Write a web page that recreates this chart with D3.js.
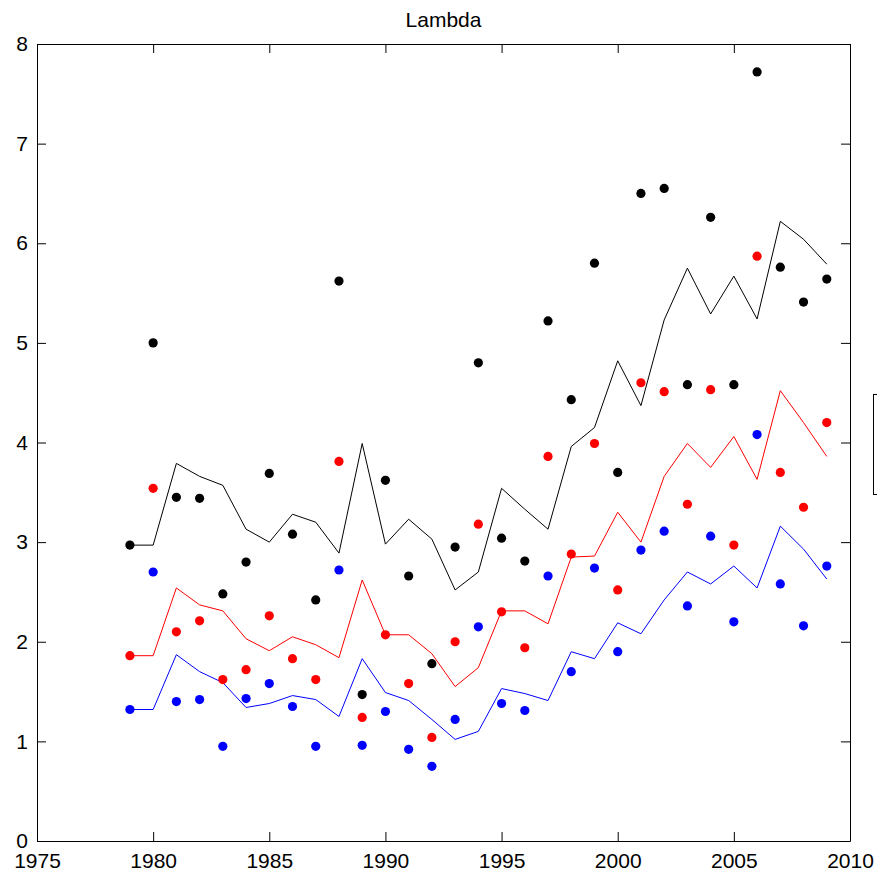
<!DOCTYPE html>
<html>
<head>
<meta charset="utf-8">
<script src="https://cdn.jsdelivr.net/npm/d3@7"></script>
<style>
    body { margin: 0; background: #fff; }
    svg { display: block; font-family: "Liberation Sans", Arial, Helvetica, sans-serif; }
</style>
</head>
<body>
<div class="svg-container"></div>
<script>
// years on the x axis
const years = [1979, 1980, 1981, 1982, 1983, 1984, 1985, 1986, 1987, 1988, 1989, 1990,
    1991, 1992, 1993, 1994, 1995, 1996, 1997, 1998, 1999, 2000, 2001, 2002,
    2003, 2004, 2005, 2006, 2007, 2008, 2009];

// dots (observed)
const blackDots = [2.97, 5.00, 3.45, 3.44, 2.48, 2.80, 3.69, 3.08, 2.42, 5.62, 1.47, 3.62,
    2.66, 1.78, 2.95, 4.80, 3.04, 2.81, 5.22, 4.43, 5.80, 3.70, 6.50, 6.55,
    4.58, 6.26, 4.58, 7.72, 5.76, 5.41, 5.64];
const redDots = [1.86, 3.54, 2.10, 2.21, 1.62, 1.72, 2.26, 1.83, 1.62, 3.81, 1.24, 2.07,
    1.58, 1.04, 2.00, 3.18, 2.30, 1.94, 3.86, 2.88, 3.99, 2.52, 4.60, 4.51,
    3.38, 4.53, 2.97, 5.87, 3.70, 3.35, 4.20];
const blueDots = [1.32, 2.70, 1.40, 1.42, 0.95, 1.43, 1.58, 1.35, 0.95, 2.72, 0.96, 1.30,
    0.92, 0.75, 1.22, 2.15, 1.38, 1.31, 2.66, 1.70, 2.74, 1.90, 2.92, 3.11,
    2.36, 3.06, 2.20, 4.08, 2.58, 2.16, 2.76];

// lines (fitted)
const blackLine = [2.97, 2.97, 3.79, 3.66, 3.57, 3.13, 3.00, 3.28, 3.20, 2.89, 3.99, 2.98,
    3.23, 3.03, 2.52, 2.70, 3.54, 3.33, 3.13, 3.96, 4.15, 4.82, 4.37, 5.23,
    5.75, 5.29, 5.67, 5.24, 6.22, 6.04, 5.79];
const redLine = [1.86, 1.86, 2.54, 2.37, 2.31, 2.03, 1.91, 2.05, 1.97, 1.84, 2.62, 2.07,
    2.07, 1.88, 1.55, 1.74, 2.31, 2.31, 2.18, 2.85, 2.86, 3.30, 3.00, 3.66,
    3.99, 3.75, 4.06, 3.63, 4.52, 4.20, 3.86];
const blueLine = [1.32, 1.32, 1.87, 1.70, 1.59, 1.34, 1.38, 1.46, 1.42, 1.25, 1.83, 1.49,
    1.41, 1.22, 1.02, 1.10, 1.53, 1.48, 1.41, 1.90, 1.83, 2.19, 2.08, 2.42,
    2.70, 2.58, 2.76, 2.54, 3.16, 2.93, 2.63];

const xTicks = [1975, 1980, 1985, 1990, 1995, 2000, 2005, 2010];
const yTicks = [0, 1, 2, 3, 4, 5, 6, 7, 8];

const svgWidth = 877;
const svgHeight = 874;
const plotLeft = 37, plotRight = 850, plotTop = 44, plotBottom = 841;
const tickLen = 9;
const fontSize = '21px';

const svg = d3.select('.svg-container').append('svg')
    .attr('width', svgWidth)
    .attr('height', svgHeight);

const x = d3.scaleLinear().domain([1975, 2010]).range([plotLeft, plotRight]);
const y = d3.scaleLinear().domain([0, 8]).range([plotBottom, plotTop]);

/** axes **/
function styleAxis(g) {
    g.selectAll('.domain').attr('stroke', '#000').attr('stroke-width', 1);
    g.selectAll('.tick line').attr('stroke', '#000').attr('stroke-width', 1);
    g.selectAll('.tick text')
        .attr('fill', '#000')
        .attr('font-size', fontSize)
        .attr('font-family', '"Liberation Sans", Arial, Helvetica, sans-serif');
}

svg.append('g')
    .attr('transform', `translate(0,${plotBottom})`)
    .call(d3.axisBottom(x).tickValues(xTicks).tickFormat(d3.format('d'))
        .tickSize(-tickLen).tickSizeOuter(0).tickPadding(12))
    .call(styleAxis);

svg.append('g')
    .attr('transform', `translate(0,${plotTop})`)
    .call(d3.axisTop(x).tickValues(xTicks).tickFormat('')
        .tickSize(-tickLen).tickSizeOuter(0))
    .call(styleAxis);

svg.append('g')
    .attr('transform', `translate(${plotLeft},0)`)
    .call(d3.axisLeft(y).tickValues(yTicks).tickFormat(d3.format('d'))
        .tickSize(-tickLen).tickSizeOuter(0).tickPadding(9))
    .call(styleAxis);

svg.append('g')
    .attr('transform', `translate(${plotRight},0)`)
    .call(d3.axisRight(y).tickValues(yTicks).tickFormat('')
        .tickSize(-tickLen).tickSizeOuter(0))
    .call(styleAxis);

// title
svg.append('text')
    .attr('x', (plotLeft + plotRight) / 2)
    .attr('y', 27)
    .attr('text-anchor', 'middle')
    .attr('font-size', fontSize)
    .attr('fill', '#000')
    .text('Lambda');

/** series **/
const line = d3.line()
    .x((d, i) => x(years[i]))
    .y(d => y(d));

function renderLine(values, color) {
    svg.append('path')
        .datum(values)
        .attr('fill', 'none')
        .attr('stroke', color)
        .attr('stroke-width', 1)
        .attr('d', line);
}

function renderDots(values, color) {
    svg.append('g')
        .selectAll('circle')
        .data(values)
        .join('circle')
        .attr('cx', (d, i) => x(years[i]))
        .attr('cy', d => y(d))
        .attr('r', 4.6)
        .attr('fill', color);
}

renderLine(blackLine, '#000');
renderLine(redLine, '#f00');
renderLine(blueLine, '#00f');

renderDots(blackDots, '#000');
renderDots(redDots, '#f00');
renderDots(blueDots, '#00f');

// legend box (cut off by the right edge of the figure)
svg.append('rect')
    .attr('x', 873.5)
    .attr('y', 394.5)
    .attr('width', 40)
    .attr('height', 100)
    .attr('fill', '#fff')
    .attr('stroke', '#000')
    .attr('stroke-width', 1);
</script>
</body>
</html>
